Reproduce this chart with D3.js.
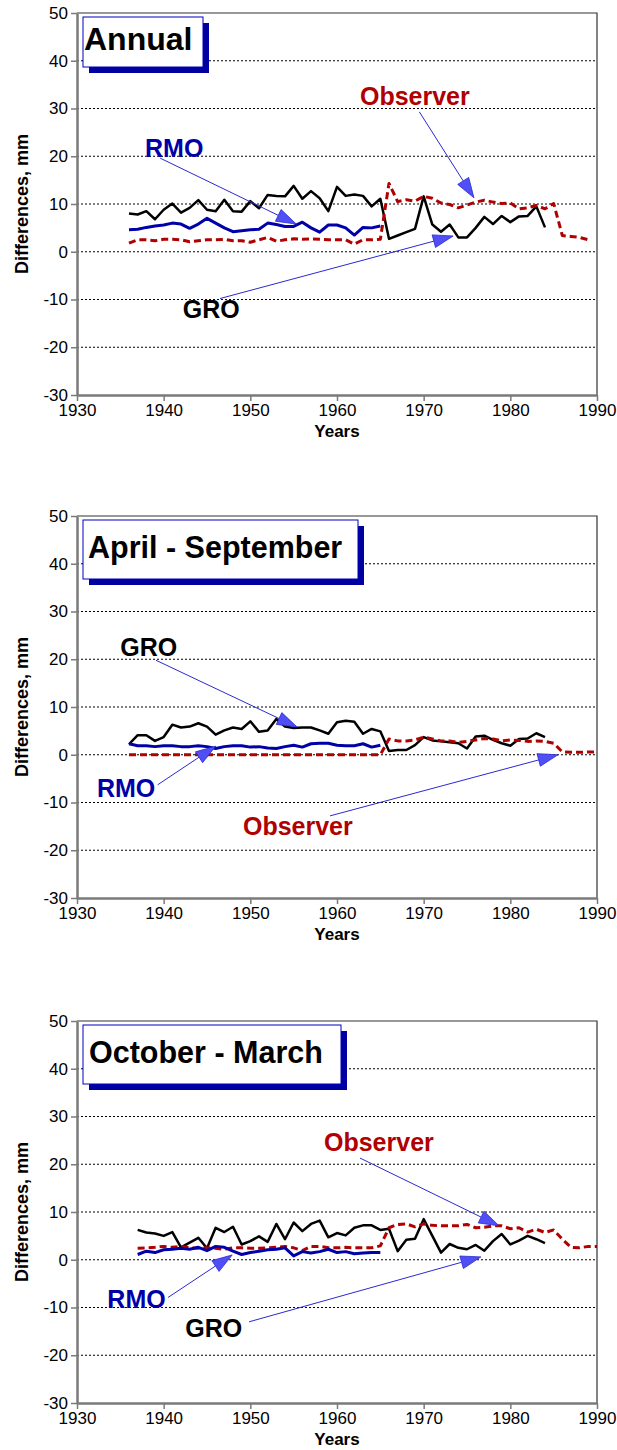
<!DOCTYPE html>
<html>
<head>
<meta charset="utf-8">
<script src="https://cdn.jsdelivr.net/npm/d3@7"></script>
<style>
    body { margin: 0; background: #fff; }
    text { font-family: "Liberation Sans", Arial, Helvetica, sans-serif; }
</style>
</head>
<body>
<div id="chart"></div>
<script>

// ---- data (differences, mm) ----
var yearTicks = [1930, 1940, 1950, 1960, 1970, 1980, 1990];
var valueTicks = [50, 40, 30, 20, 10, 0, -10, -20, -30];
var gridValues = [40, 30, 20, 10, 0, -10, -20];

// annual, first year 1936
var annualStart = 1936;
var groAnnual = [8.0, 7.8, 8.5, 6.8, 8.8, 10.1, 8.2, 9.2, 10.8, 8.8,
    8.5, 10.9, 8.5, 8.4, 10.6, 9.1, 11.9, 11.7, 11.6, 13.8,
    11.1, 12.7, 11.2, 8.5, 13.6, 11.7, 12.0, 11.7, 9.5, 11.1,
    2.7, 3.4, 4.1, 4.8, 11.6, 5.7, 4.2, 5.7, 3.0, 3.0,
    5.0, 7.3, 5.8, 7.5, 6.2, 7.4, 7.5, 9.5, 5.1];
var rmoAnnual = [4.6, 4.7, 5.1, 5.4, 5.6, 6.0, 5.8, 4.9, 5.8, 7.0,
    6.0, 5.0, 4.2, 4.4, 4.6, 4.7, 6.0, 5.7, 5.3, 5.3,
    6.2, 5.0, 4.1, 5.6, 5.6, 5.0, 3.5, 5.1, 5.0, 5.4];
var observerAnnual = [1.8, 2.5, 2.5, 2.3, 2.6, 2.6, 2.5, 2.1, 2.3, 2.5,
    2.5, 2.6, 2.3, 2.3, 2.0, 2.5, 3.0, 2.2, 2.5, 2.7,
    2.6, 2.7, 2.6, 2.5, 2.5, 2.5, 1.6, 2.5, 2.5, 2.6,
    14.3, 10.5, 10.9, 10.6, 11.6, 11.2, 10.2, 9.9, 9.2, 9.8,
    10.4, 10.8, 10.4, 10.1, 10.2, 9.0, 9.2, 9.7, 9.0, 10.1,
    3.4, 3.2, 3.0, 2.5];

// april - september, first year 1936
var summerStart = 1936;
var groSummer = [2.2, 4.1, 4.1, 2.9, 3.7, 6.3, 5.7, 5.9, 6.6, 5.9,
    4.2, 5.1, 5.7, 5.4, 7.0, 4.8, 5.1, 7.5, 5.9, 5.6,
    5.7, 5.7, 5.1, 4.4, 6.8, 7.1, 6.9, 4.4, 5.4, 4.9,
    0.8, 1.0, 1.0, 2.0, 3.7, 3.0, 2.8, 2.6, 2.4, 1.3,
    3.8, 4.0, 3.1, 2.4, 1.9, 3.3, 3.4, 4.5, 3.7];
var rmoSummer = [2.3, 1.9, 1.9, 1.7, 1.9, 1.9, 1.7, 1.7, 1.9, 1.7,
    1.3, 1.7, 1.9, 1.9, 1.6, 1.7, 1.4, 1.3, 1.7, 2.0,
    1.6, 2.3, 2.4, 2.4, 2.0, 1.9, 1.9, 2.3, 1.6, 2.0];
var observerSummer = [0, 0, 0, 0, 0, 0, 0, 0, 0, 0,
    0, 0, 0, 0, 0, 0, 0, 0, 0, 0,
    0, 0, 0, 0, 0, 0, 0, 0, 0, 0,
    3.3, 2.9, 2.9, 3.1, 3.7, 3.3, 2.9, 2.9, 2.6, 2.8,
    3.1, 3.4, 3.3, 2.9, 3.1, 3.0, 2.8, 2.9, 2.8, 2.4,
    0.6, 0.5, 0.5, 0.6, 0.6];

// october - march, first year 1937
var winterStart = 1937;
var groWinter = [6.25, 5.7, 5.5, 5.0, 5.8, 2.6, 3.6, 4.6, 2.4,
    6.7, 5.8, 6.9, 3.2, 3.9, 4.9, 3.75, 7.5, 4.3, 7.8,
    6.0, 7.5, 8.2, 4.7, 5.6, 5.1, 6.7, 7.2, 7.2, 6.25,
    6.5, 1.8, 4.2, 4.4, 8.5, 5.0, 1.5, 3.3, 2.5, 2.2,
    3.1, 1.9, 3.9, 5.4, 3.2, 4.0, 5.0, 4.3, 3.5];
var rmoWinter = [1.1, 1.8, 1.5, 2.1, 2.2, 2.4, 2.2, 2.6, 1.9,
    2.8, 2.6, 1.8, 1.1, 1.5, 1.8, 2.1, 2.2, 2.5, 0.8,
    1.7, 1.4, 1.7, 2.2, 1.5, 1.7, 1.25, 1.4, 1.5, 1.5];
var observerWinter = [2.4, 2.5, 2.6, 2.8, 2.6, 2.8, 2.5, 2.4, 2.5,
    2.4, 2.2, 2.5, 2.5, 2.4, 2.4, 2.5, 2.6, 2.8, 2.5,
    1.9, 2.8, 2.8, 2.5, 2.5, 2.6, 2.5, 2.5, 2.5, 2.9,
    6.7, 7.4, 7.5, 6.9, 7.5, 7.2, 7.1, 7.1, 7.1, 7.4,
    6.7, 6.8, 7.1, 7.1, 6.5, 6.7, 5.8, 6.4, 5.7, 6.25,
    4.3, 2.6, 2.5, 2.8, 2.8];


// one panel: frame, grid, axes, title box, three lines and arrow labels
class SeasonPanel {

    constructor(svg, top, box) {
        var left = 77, right = 597, height = 382;
        this.top = top;
        this.bottom = top + height;

        this.g = svg.append("g");

        // scales
        this.x = d3.scaleLinear().domain([1930, 1990]).range([left, right]);
        this.y = d3.scaleLinear().domain([-30, 50]).range([this.bottom, top]);

        var self = this;

        // dotted grid
        this.g.selectAll("line.grid")
            .data(gridValues)
            .enter()
            .append("line")
            .attr("class", "grid")
            .attr("x1", left)
            .attr("x2", right)
            .attr("y1", function(d) { return self.y(d); })
            .attr("y2", function(d) { return self.y(d); })
            .attr("stroke", "#000")
            .attr("stroke-width", 1)
            .attr("stroke-dasharray", "2,2");

        // top and right border
        this.g.append("path")
            .attr("d", "M" + left + "," + top + "H" + right + "V" + this.bottom)
            .attr("fill", "none")
            .attr("stroke", "#333")
            .attr("stroke-width", 1.2);

        // plain hyphen for negatives, like the original
        var plain = function(d) { return String(d); };

        // y axis
        var yAxis = d3.axisLeft(this.y)
            .tickValues(valueTicks)
            .tickFormat(plain)
            .tickSize(6)
            .tickSizeOuter(0)
            .tickPadding(3);
        this.styleAxis(this.g.append("g")
            .attr("transform", "translate(" + left + ",0)")
            .call(yAxis));

        // x axis
        var xAxis = d3.axisBottom(this.x)
            .tickValues(yearTicks)
            .tickFormat(plain)
            .tickSize(6)
            .tickSizeOuter(0)
            .tickPadding(3);
        this.styleAxis(this.g.append("g")
            .attr("transform", "translate(0," + this.bottom + ")")
            .call(xAxis));

        // axis titles
        this.g.append("text")
            .attr("transform", "translate(28," + (top + height / 2) + ") rotate(-90)")
            .attr("text-anchor", "middle")
            .attr("font-size", "18px")
            .attr("font-weight", "bold")
            .text("Differences, mm");
        this.g.append("text")
            .attr("x", (left + right) / 2)
            .attr("y", this.bottom + 42)
            .attr("text-anchor", "middle")
            .attr("font-size", "17px")
            .attr("font-weight", "bold")
            .text("Years");

        // title box with shadow
        this.g.append("rect")
            .attr("x", 89).attr("y", top + 10)
            .attr("width", box.width).attr("height", box.height)
            .attr("fill", "#0000a0");
        this.g.append("rect")
            .attr("x", 83).attr("y", top + 4)
            .attr("width", box.width).attr("height", box.height)
            .attr("fill", "#fff")
            .attr("stroke", "#0000c0")
            .attr("stroke-width", 1);
        this.g.append("text")
            .attr("x", box.textX)
            .attr("y", top + box.baseline)
            .attr("font-size", box.size + "px")
            .attr("font-weight", "bold")
            .attr("fill", "#000")
            .text(box.title);

        this.lines = this.g.append("g");
        this.notes = this.g.append("g");
    }

    styleAxis(axisG) {
        axisG.select(".domain")
            .attr("stroke", "#7a7a7a")
            .attr("stroke-width", 2.5);
        axisG.selectAll(".tick line")
            .attr("stroke", "#7a7a7a")
            .attr("stroke-width", 1.5);
        axisG.selectAll(".tick text")
            .attr("fill", "#000")
            .attr("font-size", "17px")
            .attr("font-family", "'Liberation Sans', Arial, Helvetica, sans-serif");
    }

    // series = [{start, values, color, width, dash}]
    setData(series) {
        var self = this;
        var line = d3.line()
            .x(function(d) { return self.x(d.year); })
            .y(function(d) { return self.y(d.value); });

        series.forEach(function(s) {
            var points = s.values.map(function(v, i) {
                return {"year": s.start + i, "value": v};
            });
            self.lines.append("path")
                .datum(points)
                .attr("d", line)
                .attr("fill", "none")
                .attr("stroke", s.color)
                .attr("stroke-width", s.width)
                .attr("stroke-linejoin", "round")
                .attr("stroke-dasharray", s.dash || null);
        });
    }

    // notes = [{text, color, at:[year, value], from:[year, value], to:[year, value]}]
    setNotes(notes) {
        var self = this;
        notes.forEach(function(n) {
            var x0 = self.x(n.from[0]), y0 = self.y(n.from[1]);
            var x1 = self.x(n.to[0]), y1 = self.y(n.to[1]);
            var len = Math.hypot(x1 - x0, y1 - y0);
            var ux = (x1 - x0) / len, uy = (y1 - y0) / len;
            var headLen = 20, headHalf = 6.5;
            var bx = x1 - ux * headLen, by = y1 - uy * headLen;

            self.notes.append("line")
                .attr("x1", x0).attr("y1", y0)
                .attr("x2", bx).attr("y2", by)
                .attr("stroke", "#2a2ad0")
                .attr("stroke-width", 1);
            self.notes.append("path")
                .attr("d", "M" + x1 + "," + y1 +
                    "L" + (bx - uy * headHalf) + "," + (by + ux * headHalf) +
                    "L" + (bx + uy * headHalf) + "," + (by - ux * headHalf) + "Z")
                .attr("fill", "#4f4ff5")
                .attr("stroke", "#2a2ad0")
                .attr("stroke-width", 0.8);
            self.notes.append("text")
                .attr("x", self.x(n.at[0]))
                .attr("y", self.y(n.at[1]))
                .attr("font-size", "25px")
                .attr("font-weight", "bold")
                .attr("fill", n.color)
                .text(n.text);
        });
    }
}


var svg = d3.select("#chart")
    .append("svg")
    .attr("width", 617)
    .attr("height", 1450);

var groColor = "#000", rmoColor = "#0000a8", obsColor = "#b00000";
var obsDash = "7,4";

// annual
var annual = new SeasonPanel(svg, 13,
    {title: "Annual", width: 120, height: 50, textX: 84, baseline: 37, size: 32});
annual.setData([
    {start: annualStart, values: groAnnual, color: groColor, width: 2.5},
    {start: annualStart, values: observerAnnual, color: obsColor, width: 3, dash: obsDash},
    {start: annualStart, values: rmoAnnual, color: rmoColor, width: 3}
]);
annual.setNotes([
    {text: "RMO", color: rmoColor, at: [1937.85, 19.85], from: [1939.6, 19.6], to: [1955.3, 5.8]},
    {text: "Observer", color: obsColor, at: [1962.65, 30.7], from: [1969.5, 29.3], to: [1975.8, 11.3]},
    {text: "GRO", color: groColor, at: [1942.2, -13.8], from: [1946.5, -9.8], to: [1973.4, 3.3]}
]);

// april - september
var summer = new SeasonPanel(svg, 516,
    {title: "April - September", width: 275, height: 59, textX: 88, baseline: 42, size: 30.5});
summer.setData([
    {start: summerStart, values: groSummer, color: groColor, width: 2.5},
    {start: summerStart, values: observerSummer, color: obsColor, width: 3, dash: obsDash},
    {start: summerStart, values: rmoSummer, color: rmoColor, width: 3}
]);
summer.setNotes([
    {text: "GRO", color: groColor, at: [1935.0, 20.7], from: [1939.1, 19.8], to: [1955.4, 5.8]},
    {text: "RMO", color: rmoColor, at: [1932.3, -8.8], from: [1939.3, -6.3], to: [1946.0, 1.8]},
    {text: "Observer", color: obsColor, at: [1949.15, -16.8], from: [1959.2, -12.8], to: [1985.5, 0]}
]);

// october - march
var winter = new SeasonPanel(svg, 1021,
    {title: "October - March", width: 258, height: 59, textX: 89, baseline: 42, size: 30.5});
winter.setData([
    {start: winterStart, values: groWinter, color: groColor, width: 2.5},
    {start: winterStart, values: observerWinter, color: obsColor, width: 3, dash: obsDash},
    {start: winterStart, values: rmoWinter, color: rmoColor, width: 3}
]);
winter.setNotes([
    {text: "Observer", color: obsColor, at: [1958.5, 22.8], from: [1962.65, 21.3], to: [1978.7, 7.1]},
    {text: "RMO", color: rmoColor, at: [1933.5, -10.2], from: [1940.5, -7.9], to: [1947.9, 1.0]},
    {text: "GRO", color: groColor, at: [1942.5, -16.2], from: [1949.85, -13.0], to: [1976.6, 0.6]}
]);

</script>
</body>
</html>
